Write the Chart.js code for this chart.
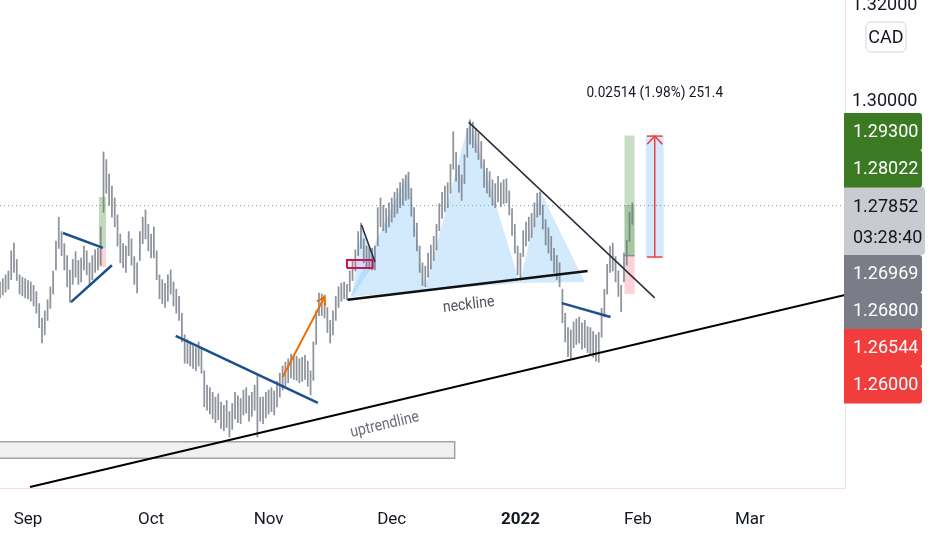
<!DOCTYPE html>
<html lang="en">
<head>
<meta charset="UTF-8">
<title>USDCAD 4H</title>
<script src="https://cdn.jsdelivr.net/npm/chart.js@4.4.0/dist/chart.umd.min.js"></script>
<style>
  html, body { margin: 0; padding: 0; background: #fff; }
  #wrap { width: 932px; height: 550px; }
</style>
</head>
<body>
<div id="wrap"><canvas id="chart" width="932" height="550"></canvas></div>
<script>
// x unit = trading day, 0 = 1 Sep 2021; two bars per day
const barStart = -5;
const barStep = 0.5;

const lows = [
  1.2592,1.2598,1.2604,1.2610,1.2630,1.2645,1.2628,1.2600,1.2596,1.2592,
  1.2590,1.2585,1.2575,1.2560,1.2530,1.2498,1.2515,1.2545,1.2570,1.2600,
  1.2650,1.2695,1.2680,1.2650,1.2615,1.2583,1.2620,1.2635,1.2620,1.2625,
  1.2650,1.2640,1.2618,1.2630,1.2645,1.2650,1.2660,1.2770,1.2810,1.2785,
  1.2760,1.2740,1.2700,1.2665,1.2655,1.2645,1.2680,1.2660,1.2620,1.2602,
  1.2670,1.2705,1.2715,1.2690,1.2675,1.2675,1.2630,1.2590,1.2580,1.2572,
  1.2585,1.2600,1.2575,1.2560,1.2545,1.2500,1.2456,1.2455,1.2450,1.2445,
  1.2440,1.2450,1.2435,1.2365,1.2358,1.2350,1.2340,1.2332,1.2338,1.2320,
  1.2315,1.2322,1.2302,1.2318,1.2340,1.2332,1.2330,1.2348,1.2352,1.2335,
  1.2345,1.2358,1.2302,1.2335,1.2330,1.2342,1.2350,1.2355,1.2348,1.2365,
  1.2385,1.2400,1.2408,1.2415,1.2425,1.2422,1.2420,1.2415,1.2418,1.2422,
  1.2408,1.2390,1.2420,1.2495,1.2555,1.2555,1.2550,1.2520,1.2498,1.2515,
  1.2545,1.2572,1.2585,1.2590,1.2588,1.2605,1.2628,1.2648,1.2680,1.2695,
  1.2665,1.2655,1.2652,1.2650,1.2650,1.2700,1.2740,1.2732,1.2728,1.2740,
  1.2750,1.2760,1.2768,1.2780,1.2785,1.2795,1.2798,1.2762,1.2720,1.2690,
  1.2645,1.2618,1.2615,1.2635,1.2652,1.2670,1.2692,1.2732,1.2758,1.2772,
  1.2780,1.2810,1.2860,1.2835,1.2812,1.2795,1.2830,1.2885,1.2912,1.2905,
  1.2895,1.2880,1.2862,1.2822,1.2810,1.2802,1.2785,1.2780,1.2792,1.2782,
  1.2788,1.2790,1.2765,1.2722,1.2685,1.2640,1.2629,1.2678,1.2700,1.2710,
  1.2718,1.2740,1.2760,1.2765,1.2735,1.2702,1.2685,1.2670,1.2645,1.2630,
  1.2615,1.2540,1.2500,1.2470,1.2463,1.2488,1.2495,1.2498,1.2485,1.2488,
  1.2478,1.2475,1.2468,1.2460,1.2458,1.2510,1.2552,1.2600,1.2645,1.2648,
  1.2625,1.2595,1.2563,1.2625,1.2660,1.2710,1.2745
];
const highs = [
  1.2625,1.2632,1.2640,1.2648,1.2690,1.2706,1.2672,1.2640,1.2635,1.2632,
  1.2628,1.2625,1.2618,1.2605,1.2580,1.2550,1.2565,1.2588,1.2615,1.2648,
  1.2710,1.2760,1.2730,1.2705,1.2680,1.2650,1.2672,1.2688,1.2670,1.2675,
  1.2700,1.2690,1.2665,1.2680,1.2692,1.2695,1.2740,1.2896,1.2880,1.2850,
  1.2825,1.2800,1.2765,1.2725,1.2705,1.2700,1.2730,1.2715,1.2678,1.2665,
  1.2730,1.2760,1.2775,1.2745,1.2725,1.2740,1.2690,1.2640,1.2630,1.2622,
  1.2640,1.2650,1.2625,1.2610,1.2595,1.2560,1.2515,1.2505,1.2500,1.2492,
  1.2488,1.2500,1.2488,1.2440,1.2410,1.2405,1.2395,1.2385,1.2392,1.2375,
  1.2368,1.2378,1.2355,1.2372,1.2395,1.2388,1.2382,1.2400,1.2405,1.2388,
  1.2395,1.2410,1.2431,1.2385,1.2385,1.2395,1.2400,1.2405,1.2398,1.2418,
  1.2435,1.2450,1.2458,1.2465,1.2475,1.2472,1.2470,1.2465,1.2468,1.2472,
  1.2460,1.2440,1.2500,1.2565,1.2602,1.2600,1.2598,1.2572,1.2545,1.2565,
  1.2595,1.2615,1.2623,1.2625,1.2620,1.2648,1.2672,1.2692,1.2730,1.2748,
  1.2715,1.2700,1.2698,1.2695,1.2700,1.2780,1.2800,1.2785,1.2778,1.2790,
  1.2800,1.2812,1.2820,1.2832,1.2840,1.2848,1.2854,1.2820,1.2780,1.2748,
  1.2700,1.2665,1.2658,1.2685,1.2702,1.2720,1.2745,1.2788,1.2812,1.2825,
  1.2832,1.2870,1.2938,1.2895,1.2868,1.2848,1.2890,1.2945,1.2963,1.2958,
  1.2945,1.2935,1.2918,1.2880,1.2862,1.2855,1.2838,1.2830,1.2845,1.2832,
  1.2838,1.2840,1.2815,1.2778,1.2745,1.2700,1.2685,1.2732,1.2750,1.2760,
  1.2768,1.2790,1.2810,1.2813,1.2785,1.2755,1.2738,1.2720,1.2695,1.2680,
  1.2665,1.2610,1.2560,1.2530,1.2525,1.2542,1.2548,1.2552,1.2540,1.2545,
  1.2532,1.2530,1.2522,1.2515,1.2520,1.2570,1.2610,1.2662,1.2700,1.2706,
  1.2678,1.2648,1.2618,1.2685,1.2712,1.2770,1.2790
];

const monthDays = [0, 22, 43, 65, 88, 109, 129];
const monthLabels = ['Sep', 'Oct', 'Nov', 'Dec', '2022', 'Feb', 'Mar'];
const priceTicks = [1.24, 1.26, 1.28, 1.30, 1.32];
const lastPrice = 1.27852;
const countdown = '03:28:40';
const labelPrices = [1.29300, 1.28022, 1.26969, 1.26800, 1.26544, 1.26000];
const measureText = '0.02514 (1.98%) 251.4';

// drawings, in [day, price]
const flagUpper = [[6.25, 1.2727], [13.4, 1.2696]];
const flagLower = [[7.68, 1.2583], [15.0, 1.2660]];
const octLine = [[26.4, 1.2513], [51.8, 1.2373]];
const novArrow = [[45.5, 1.2427], [53.0, 1.2594]];
const smallLeg = [[59.6, 1.2744], [62.0, 1.2667]];
const neckline = [[57.1, 1.2588], [100.0, 1.2648]];
const downLine = [[78.75, 1.2958], [112.0, 1.2592]];
const janLine = [[95.4, 1.2581], [104.1, 1.2552]];
const upLine = [[0.36, 1.2198], [146, 1.2598]];
const smallTri = [[57.9, 1.2594], [59.6, 1.2744], [62.1, 1.2667]];
const leftShoulder = [[57.5, 1.2594], [67.9, 1.2852], [70.9, 1.2608]];
const head = [[70.9, 1.2608], [78.9, 1.2963], [87.9, 1.2623]];
const rightShoulder = [[87.9, 1.2623], [91.6, 1.2813], [99.5, 1.2625]];
const zoneBox = [-6, 76.25, 1.2258, 1.2292];
const signalBox = [57.0, 61.6, 1.2654, 1.2671];
const septPos = [12.68, 13.93, 1.2656, 1.2696, 1.2802];     // x0, x1, stop, entry, target
const longPos = [106.6, 108.4, 1.2600, 1.2680, 1.2930];
const measure = [110.4, 113.6, 1.2677, 1.2929];
const necklineAt = [78.75, 1.2577];
const uptrendAt = [63.75, 1.2327];
const measureAt = [112.0, 1.3019];

const FONT = 'Roboto, "Noto Sans", sans-serif';
const labelColors = ['#3b7a22', '#3b7a22', '#7a7d87', '#7a7d87', '#f23d3d', '#f23d3d'];

function pts(list) { return list.map(p => ({x: p[0], y: p[1]})); }
function seg(list, color, width, order, extra) {
  return Object.assign({
    type: 'line', data: pts(list), borderColor: color, borderWidth: width,
    pointRadius: 0, fill: false, tension: 0, order: order
  }, extra || {});
}
function shape(list, fillColor, lineColor, width, order) {
  return seg(list.concat([list[0]]), lineColor, width, order, {fill: 'shape', backgroundColor: fillColor});
}
function rect(x0, x1, y0, y1) { return [[x0, y0], [x1, y0], [x1, y1], [x0, y1]]; }

const bars = lows.map((l, i) => ({x: barStart + i * barStep, y: [l, highs[i]]}));
const mx = (measure[0] + measure[1]) / 2;

const datasets = [
  // top lines
  seg(upLine, '#000000', 2, 1),
  seg(neckline, '#111111', 2.5, 1),
  seg(downLine, '#2a2e39', 1.5, 1),
  seg(smallLeg, '#2a2e39', 1.5, 1),
  seg(flagUpper, '#1c4f8f', 2.5, 1),
  seg(flagLower, '#1c4f8f', 2.5, 1),
  seg(octLine, '#1c4f8f', 2.5, 1),
  seg(janLine, '#1c4f8f', 2.5, 1),
  seg(novArrow, '#ef6c00', 2, 1),
  seg([[measure[0] + 0.2, measure[2]], [measure[1] - 0.2, measure[2]]], '#f23d3d', 1.5, 1),
  seg([[measure[0] + 0.2, measure[3]], [measure[1] - 0.2, measure[3]]], '#f23d3d', 1.5, 1),
  seg([[mx, measure[2]], [mx, measure[3]]], '#f23d3d', 1.5, 1),
  shape(rect(signalBox[0], signalBox[1], signalBox[2], signalBox[3]), 'rgba(233,30,99,0.08)', '#c2185b', 2, 2),
  // price bars
  {type: 'bar', data: bars, backgroundColor: 'rgba(112,116,128,0.78)', barThickness: 1.1, order: 5, grouped: false},
  // filled shapes under the price
  shape(rect(septPos[0], septPos[1], septPos[3], septPos[4]), 'rgba(76,150,60,0.35)', 'rgba(0,0,0,0)', 0, 8),
  shape(rect(septPos[0], septPos[1], septPos[2], septPos[3]), 'rgba(242,54,69,0.22)', 'rgba(0,0,0,0)', 0, 8),
  shape(rect(longPos[0], longPos[1], longPos[3], longPos[4]), 'rgba(76,145,65,0.30)', 'rgba(0,0,0,0)', 0, 8),
  shape(rect(longPos[0], longPos[1], longPos[3], lastPrice), 'rgba(76,145,65,0.28)', 'rgba(0,0,0,0)', 0, 7),
  shape(rect(longPos[0], longPos[1], longPos[2], longPos[3]), 'rgba(242,54,69,0.22)', 'rgba(0,0,0,0)', 0, 8),
  seg([[longPos[0], longPos[3]], [longPos[1], longPos[3]]], '#8a8d96', 1.5, 6),
  shape(rect(measure[0], measure[1], measure[2], measure[3]), 'rgba(33,150,243,0.2)', 'rgba(0,0,0,0)', 0, 8),
  shape(smallTri, 'rgba(144,202,249,0.4)', 'rgba(0,0,0,0)', 0, 9),
  shape(leftShoulder, 'rgba(144,202,249,0.4)', 'rgba(0,0,0,0)', 0, 9),
  shape(head, 'rgba(144,202,249,0.4)', 'rgba(0,0,0,0)', 0, 9),
  shape(rightShoulder, 'rgba(144,202,249,0.4)', 'rgba(0,0,0,0)', 0, 9),
  shape(rect(zoneBox[0], zoneBox[1], zoneBox[2], zoneBox[3]), '#f1f1f1', '#a3a3a3', 1.5, 9)
];

function px(chart, p) {
  return {x: chart.scales.x.getPixelForValue(p[0]), y: chart.scales.y.getPixelForValue(p[1])};
}
function chevron(ctx, a, b, size, spread) {
  const ang = Math.atan2(b.y - a.y, b.x - a.x);
  ctx.beginPath();
  ctx.moveTo(b.x - size * Math.cos(ang - spread), b.y - size * Math.sin(ang - spread));
  ctx.lineTo(b.x, b.y);
  ctx.lineTo(b.x - size * Math.cos(ang + spread), b.y - size * Math.sin(ang + spread));
  ctx.stroke();
}
function note(chart, text, at, along, size, color) {
  const ctx = chart.ctx;
  const c = px(chart, at);
  let ang = 0;
  if (along) {
    const a = px(chart, along[0]), b = px(chart, along[1]);
    ang = Math.atan2(b.y - a.y, b.x - a.x);
  }
  ctx.save();
  ctx.translate(c.x, c.y);
  ctx.rotate(ang);
  ctx.scale(0.88, 1);
  ctx.font = size + 'px ' + FONT;
  ctx.fillStyle = color;
  ctx.textAlign = 'center';
  ctx.textBaseline = 'middle';
  ctx.fillText(text, 0, 0);
  ctx.restore();
}

const overlay = {
  id: 'overlay',
  beforeDatasetsDraw(chart) {
    const ctx = chart.ctx, area = chart.chartArea;
    const y = chart.scales.y.getPixelForValue(lastPrice);
    ctx.save();
    ctx.strokeStyle = '#8f929b';
    ctx.lineWidth = 1;
    ctx.setLineDash([1, 3]);
    ctx.beginPath();
    ctx.moveTo(area.left, y + 0.5);
    ctx.lineTo(area.right, y + 0.5);
    ctx.stroke();
    ctx.restore();
  },
  afterDatasetsDraw(chart) {
    const ctx = chart.ctx;
    ctx.save();
    ctx.lineWidth = 2;
    ctx.strokeStyle = '#ef6c00';
    chevron(ctx, px(chart, novArrow[0]), px(chart, novArrow[1]), 9, 0.55);
    ctx.lineWidth = 1.5;
    ctx.strokeStyle = '#f23d3d';
    chevron(ctx, px(chart, [mx, measure[2]]), px(chart, [mx, measure[3]]), 11, 0.75);
    ctx.restore();
    note(chart, 'neckline', necklineAt, neckline, 16, '#50535e');
    note(chart, 'uptrendline', uptrendAt, upLine, 16, '#6a6d78');
    note(chart, measureText, measureAt, null, 15.5, '#131722');
  },
  afterDraw(chart) {
    const ctx = chart.ctx, ys = chart.scales.y;
    const left = ys.left - 1, w = 78, h = 37;
    ctx.save();
    ctx.font = '18px ' + FONT;
    ctx.textBaseline = 'middle';
    ctx.textAlign = 'left';
    // currency badge
    ctx.beginPath();
    ctx.roundRect(ys.left + 21, 22, 40, 30, 5);
    ctx.fillStyle = '#ffffff';
    ctx.fill();
    ctx.strokeStyle = '#d1d4dc';
    ctx.lineWidth = 1;
    ctx.stroke();
    ctx.fillStyle = '#131722';
    ctx.textAlign = 'center';
    ctx.fillText('CAD', ys.left + 41, 38);
    ctx.textAlign = 'left';
    // last price box
    const cy = ys.getPixelForValue(lastPrice);
    const curTop = cy - 18, curBot = curTop + 68;
    ctx.beginPath();
    ctx.roundRect(left, curTop, w + 3, 68, [0, 4, 4, 0]);
    ctx.fillStyle = '#c9cbd1';
    ctx.fill();
    ctx.fillStyle = '#131722';
    ctx.fillText(lastPrice.toFixed(5), ys.left + 8, cy + 2);
    ctx.fillText(countdown, ys.left + 8, cy + 33);
    // stacked labels above and below it
    const placed = [];
    let edge = curTop;
    labelPrices.map((p, i) => ({p, i})).filter(o => o.p > lastPrice)
      .sort((a, b) => a.p - b.p).forEach(o => {
        const bottom = Math.min(ys.getPixelForValue(o.p) + h / 2, edge);
        placed.push({o, top: bottom - h});
        edge = bottom - h;
      });
    edge = curBot;
    labelPrices.map((p, i) => ({p, i})).filter(o => o.p < lastPrice)
      .sort((a, b) => b.p - a.p).forEach(o => {
        const top = Math.max(ys.getPixelForValue(o.p) - h / 2, edge);
        placed.push({o, top});
        edge = top + h;
      });
    placed.forEach(({o, top}) => {
      ctx.beginPath();
      ctx.roundRect(left, top, w, h + 0.5, [0, 3, 3, 0]);
      ctx.fillStyle = labelColors[o.i];
      ctx.fill();
      ctx.fillStyle = '#ffffff';
      ctx.fillText(o.p.toFixed(5), ys.left + 8, top + h / 2 + 1);
    });
    ctx.restore();
  }
};

function noPad(scale) {
  scale.paddingLeft = 0;
  scale.paddingRight = 0;
  scale.paddingTop = 0;
  scale.paddingBottom = 0;
}

new Chart(document.getElementById('chart'), {
  type: 'bar',
  data: {datasets},
  options: {
    responsive: false,
    animation: false,
    events: [],
    layout: {padding: 0},
    plugins: {legend: {display: false}, tooltip: {enabled: false}},
    scales: {
      x: {
        type: 'linear', min: -5, max: 146, offset: false,
        grid: {display: false, offset: false, drawTicks: false},
        border: {display: true, color: '#f6dcdc', width: 1},
        afterBuildTicks(scale) { scale.ticks = monthDays.map(v => ({value: v})); },
        afterFit(scale) { scale.height = 62; noPad(scale); },
        ticks: {
          autoSkip: false, maxRotation: 0, padding: 22, color: '#131722',
          font: c => ({family: FONT, size: 17, weight: monthLabels[c.index] === '2022' ? 'bold' : 'normal'}),
          callback: (v, i) => monthLabels[i]
        }
      },
      y: {
        type: 'linear', position: 'right', min: 1.219583, max: 1.32125,
        grid: {display: false, drawTicks: false},
        border: {display: true, color: '#f6dcdc', width: 1},
        afterBuildTicks(scale) { scale.ticks = priceTicks.map(v => ({value: v})); },
        afterFit(scale) { scale.width = 87; noPad(scale); },
        ticks: {
          padding: 7, color: '#131722', font: {family: FONT, size: 18},
          callback: v => v.toFixed(5)
        }
      }
    }
  },
  plugins: [overlay]
});
</script>
</body>
</html>
